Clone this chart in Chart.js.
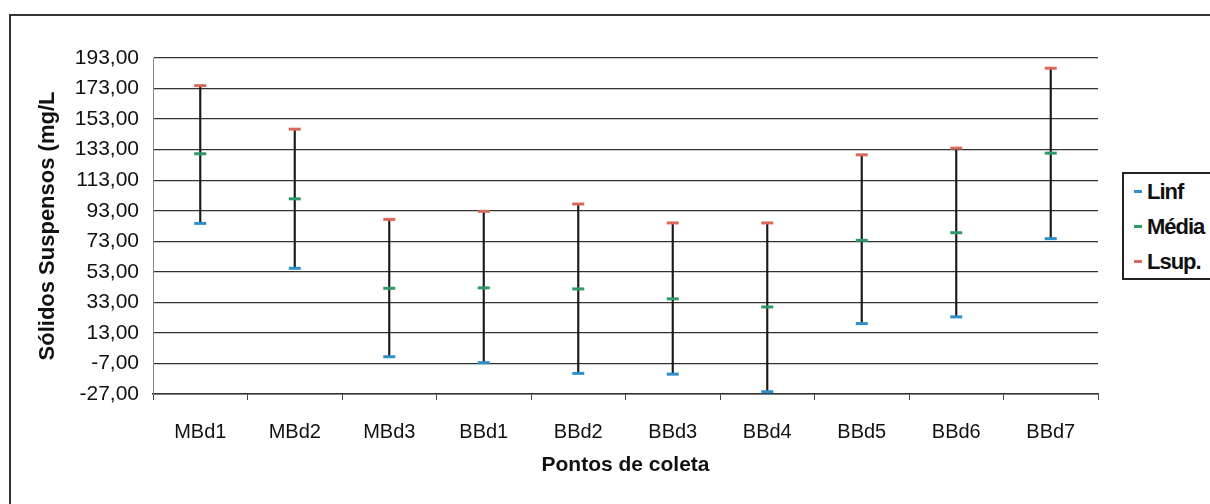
<!DOCTYPE html>
<html>
<head>
<meta charset="utf-8">
<script src="https://cdn.jsdelivr.net/npm/chart.js@4.4.0/dist/chart.umd.min.js"></script>
<style>
  html, body { margin: 0; padding: 0; background: #fff; overflow: hidden; }
  body { width: 1210px; height: 504px; position: relative; font-family: "Liberation Sans", Arial, sans-serif; }
  #frame { position: absolute; left: 9px; top: 14px; width: 1400px; height: 700px; border: 2px solid #333; }
  #wrap { position: absolute; left: 0; top: 0; }
  #legend { position: absolute; left: 1122px; top: 172px; width: 110px; height: 104px; border: 2px solid #222; background: #fff; }
  .item { position: absolute; left: 10px; font: bold 22px "Liberation Sans", Arial, sans-serif; color: #111; letter-spacing: -1px; }
  .item i { display: inline-block; width: 8px; height: 3px; margin-right: 5px; vertical-align: middle; position: relative; top: -2px; }
</style>
</head>
<body>
<div id="frame"></div>
<div id="wrap"><canvas id="chart" width="1210" height="504"></canvas></div>
<div id="legend"></div>
<script>
// pontos de coleta
const categories = ['MBd1', 'MBd2', 'MBd3', 'BBd1', 'BBd2', 'BBd3', 'BBd4', 'BBd5', 'BBd6', 'BBd7'];
// sólidos suspensos (mg/L)
const linf = [84.7, 55.3, -2.6, -6.5, -13.5, -14.0, -25.5, 19.1, 23.5, 74.7];
const media = [130.3, 100.8, 42.2, 42.5, 41.8, 35.3, 30.0, 73.6, 78.6, 130.7];
const lsup = [174.9, 146.4, 87.3, 92.6, 97.4, 85.0, 85.0, 129.6, 134.0, 186.3];
const yTicks = [-27, -7, 13, 33, 53, 73, 93, 113, 133, 153, 173, 193];

const series = [
    {label: 'Linf', data: linf, color: '#2f8fc9'},
    {label: 'Média', data: media, color: '#2f9a68'},
    {label: 'Lsup.', data: lsup, color: '#d9695c'}
];

const ctx = document.getElementById('chart').getContext('2d');

const datasets = series.map(s => ({
    type: 'line',
    label: s.label,
    data: s.data,
    showLine: false,
    pointStyle: 'line',
    pointRadius: 6,
    pointBorderWidth: 3,
    pointBorderColor: s.color,
    pointBackgroundColor: s.color,
    order: 1
}));

// vertical line from Linf to Lsup
datasets.push({
    type: 'bar',
    label: 'range',
    data: linf.map((v, i) => [v, lsup[i]]),
    backgroundColor: '#1a1a1a',
    barThickness: 1.5,
    order: 5
});

new Chart(ctx, {
    data: {labels: categories, datasets: datasets},
    options: {
        responsive: false,
        animation: false,
        layout: {padding: {left: 0, right: 112, top: 58, bottom: 0}},
        plugins: {
            legend: {display: false},
            tooltip: {enabled: false}
        },
        scales: {
            x: {
                offset: true,
                grid: {display: true, drawOnChartArea: false, drawTicks: true, tickLength: 6, color: '#444', offset: true},
                border: {color: '#333', width: 1.5},
                ticks: {color: '#111', padding: 20, font: {family: 'Liberation Sans', size: 20}},
                title: {display: true, text: 'Pontos de coleta', color: '#111', padding: {top: 0, bottom: 26},
                    font: {family: 'Liberation Sans', size: 21, weight: 'bold'}},
                afterFit: (scale) => { scale.height = 110; }
            },
            y: {
                min: -27,
                max: 193,
                afterBuildTicks: (scale) => { scale.ticks = yTicks.map(v => ({value: v})); },
                grid: {color: '#333', lineWidth: 1.2, drawTicks: false},
                border: {color: '#888', width: 1},
                ticks: {
                    color: '#111',
                    padding: 14,
                    font: {family: 'Liberation Sans', size: 21},
                    callback: (value) => value.toFixed(2).replace('.', ',')
                },
                title: {display: true, text: 'Sólidos Suspensos (mg/L', color: '#111', padding: {top: 35, bottom: 0},
                    font: {family: 'Liberation Sans', size: 22, weight: 'bold'}},
                afterFit: (scale) => { scale.width = 153; }
            }
        }
    }
});

// legend
const legendEl = document.getElementById('legend');
series.forEach((s, i) => {
    const item = document.createElement('div');
    item.className = 'item';
    item.style.top = (5 + i * 35) + 'px';
    item.innerHTML = '<i style="background:' + s.color + '"></i>' + s.label;
    legendEl.appendChild(item);
});
</script>
</body>
</html>
